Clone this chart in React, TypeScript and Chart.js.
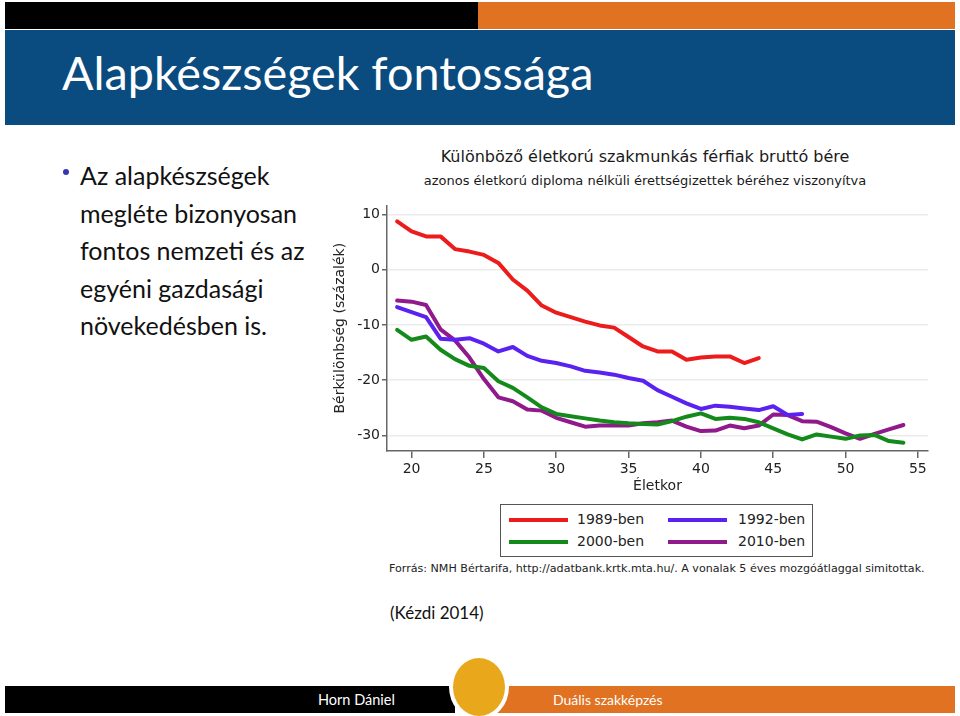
import React, { useEffect, useRef } from "react";
import { Chart, registerables } from "chart.js";

Chart.register(...registerables);

const ages = [19, 20, 21, 22, 23, 24, 25, 26, 27, 28, 29, 30, 31, 32, 33, 34, 35, 36, 37, 38, 39, 40, 41, 42, 43, 44, 45, 46, 47, 48, 49, 50, 51, 52, 53, 54];

const s1989 = [8.7, 6.9, 6.0, 6.0, 3.7, 3.25, 2.65, 1.2, -1.8, -3.8, -6.5, -7.8, -8.6, -9.4, -10.1, -10.5, -12.2, -13.9, -14.8, -14.8, -16.3, -15.9, -15.7, -15.7, -16.9, -16.0, null, null, null, null, null, null, null, null, null, null];
const s1992 = [-6.8, -7.7, -8.6, -12.5, -12.7, -12.4, -13.4, -14.8, -14.0, -15.6, -16.5, -16.9, -17.5, -18.3, -18.6, -19.0, -19.6, -20.1, -21.8, -23.0, -24.2, -25.2, -24.6, -24.8, -25.1, -25.4, -24.7, -26.3, -26.1, null, null, null, null, null, null, null];
const s2000 = [-10.9, -12.7, -12.1, -14.5, -16.2, -17.4, -17.8, -20.2, -21.4, -23.1, -24.9, -26.1, -26.5, -26.9, -27.3, -27.6, -27.8, -27.9, -28.0, -27.4, -26.6, -26.0, -27.0, -26.8, -27.0, -27.6, -28.7, -29.8, -30.7, -29.8, -30.2, -30.6, -30.0, -29.9, -31.0, -31.3];
const s2010 = [-5.6, -5.8, -6.4, -10.8, -12.8, -15.9, -19.8, -23.1, -23.8, -25.3, -25.5, -26.8, -27.6, -28.4, -28.2, -28.2, -28.2, -27.8, -27.6, -27.3, -28.4, -29.2, -29.1, -28.2, -28.7, -28.2, -26.2, -26.3, -27.4, -27.5, -28.5, -29.6, -30.6, -29.7, -28.9, -28.1];

const seriesNames = ["1989-ben", "1992-ben", "2000-ben", "2010-ben"];
const seriesColors = ["#ec1c1c", "#5a22f0", "#138a1a", "#901a8c"];
const seriesValues = [s1989, s1992, s2000, s2010];

const xTicks = [20, 25, 30, 35, 40, 45, 50, 55];
const yTicks = [-30, -20, -10, 0, 10];

const chartTitle = "Különböző életkorú szakmunkás férfiak bruttó bére";
const chartSubtitle = "azonos életkorú diploma nélküli érettségizettek béréhez viszonyítva";
const xTitle = "Életkor";
const yTitle = "Bérkülönbség (százalék)";
const sourceText = "Forrás: NMH Bértarifa, http://adatbank.krtk.mta.hu/. A vonalak 5 éves mozgóátlaggal simitottak.";

const slideTitle = "Alapkészségek fontossága";
const bulletLines = ["Az alapkészségek", "megléte bizonyosan", "fontos nemzeti és az", "egyéni gazdasági", "növekedésben is."];

const chartFont = "'DejaVu Sans', sans-serif";
const slideFont = "Lato, 'Open Sans', sans-serif";

function LineChart() {
  const ref = useRef<HTMLCanvasElement | null>(null);
  useEffect(() => {
    if (!ref.current) return;
    const datasets = seriesValues.map((vals, i) => ({
      label: seriesNames[i],
      data: ages
        .map((a, j) => ({ x: a, y: vals[j] }))
        .filter((p) => p.y !== null),
      borderColor: seriesColors[i],
      backgroundColor: seriesColors[i],
      borderWidth: 4,
      pointRadius: 0,
      tension: 0,
      borderJoinStyle: "round" as const,
      borderCapStyle: "round" as const,
      fill: false,
    }));
    const chart = new Chart(ref.current, {
      type: "line",
      data: { datasets },
      options: {
        animation: false,
        responsive: false,
        maintainAspectRatio: false,
        layout: { padding: { top: 10, right: 7, left: 0, bottom: 0 } },
        plugins: { legend: { display: false }, tooltip: { enabled: false }, title: { display: false } },
        scales: {
          x: {
            type: "linear",
            min: 18.3,
            max: 55.7,
            afterBuildTicks: (scale: any) => {
              scale.ticks = xTicks.map((v) => ({ value: v }));
            },
            afterFit: (scale: any) => {
              scale.height = 44;
            },
            ticks: {
              font: { family: chartFont, size: 14 },
              color: "#222",
              padding: 3,
              maxRotation: 0,
              autoSkip: false,
            },
            grid: { drawOnChartArea: false, drawTicks: true, tickLength: 7, color: "#666", tickColor: "#666", lineWidth: 1.5 },
            border: { display: true, color: "#666", width: 1.5 },
            title: {
              display: true,
              text: xTitle,
              font: { family: chartFont, size: 14 },
              color: "#222",
              padding: { top: 0, bottom: 0 },
            },
          },
          y: {
            type: "linear",
            min: -32.8,
            max: 11.6,
            afterBuildTicks: (scale: any) => {
              scale.ticks = yTicks.map((v) => ({ value: v }));
            },
            afterFit: (scale: any) => {
              scale.width = 57;
            },
            ticks: {
              font: { family: chartFont, size: 14 },
              color: "#222",
              padding: 2,
              autoSkip: false,
            },
            grid: { color: "#ebebeb", lineWidth: 1.5, tickColor: "#666", tickLength: 5 },
            border: { display: true, color: "#666", width: 1.5 },
            title: {
              display: true,
              text: yTitle,
              font: { family: chartFont, size: 14 },
              color: "#222",
              padding: { top: 2, bottom: 0 },
            },
          },
        },
      },
    });
    return () => chart.destroy();
  }, []);
  return (
    <canvas
      ref={ref}
      width={605}
      height={300}
      style={{ position: "absolute", left: 330, top: 195, width: 605, height: 300 }}
    />
  );
}

export default function App() {
  useEffect(() => {
    document.body.style.margin = "0";
  }, []);
  const abs = (o: React.CSSProperties): React.CSSProperties => ({ position: "absolute", ...o });
  return (
    <div style={{ position: "relative", width: 960, height: 716, background: "#fff", overflow: "hidden" }}>
      {/* header */}
      <div style={abs({ left: 5, top: 2, width: 473, height: 27, background: "#000" })} />
      <div style={abs({ left: 478, top: 2, width: 477, height: 27, background: "#e07222" })} />
      <div style={abs({ left: 5, top: 30, width: 950, height: 95, background: "#0a4c7f" })} />
      <div
        style={abs({
          left: 62,
          top: 45,
          color: "#fff",
          fontFamily: slideFont,
          fontWeight: 400,
          fontSize: 46.7,
          lineHeight: "54px",
          whiteSpace: "nowrap",
        })}
      >
        {slideTitle}
      </div>

      {/* bullet text */}
      <div style={abs({ left: 63, top: 169, width: 6, height: 6, borderRadius: 3, background: "#3535b0" })} />
      {bulletLines.map((t, i) => (
        <div
          key={i}
          style={abs({
            left: 80,
            top: 157 + i * 37.5,
            fontFamily: slideFont,
            fontSize: 25,
            lineHeight: "37px",
            color: "#111",
            whiteSpace: "nowrap",
          })}
        >
          {t}
        </div>
      ))}

      {/* chart titles */}
      <div style={abs({ left: 330, width: 630, top: 147, textAlign: "center", fontFamily: chartFont, fontSize: 16, lineHeight: "20px", color: "#1a1a1a", whiteSpace: "nowrap" })}>
        {chartTitle}
      </div>
      <div style={abs({ left: 330, width: 630, top: 173, textAlign: "center", fontFamily: chartFont, fontSize: 13, lineHeight: "16px", color: "#1a1a1a", whiteSpace: "nowrap" })}>
        {chartSubtitle}
      </div>

      <LineChart />

      {/* legend */}
      <div style={abs({ left: 500, top: 504, width: 313, height: 53, boxSizing: "border-box", border: "1.5px solid #555", background: "#fff" })}>
        {seriesNames.map((n, i) => {
          const col = i % 2;
          const row = Math.floor(i / 2);
          return (
            <div key={n}>
              <div style={abs({ left: col === 0 ? 8 : 167, top: row === 0 ? 13 : 35, width: 59, height: 4, background: seriesColors[i] })} />
              <div style={abs({ left: col === 0 ? 76 : 237, top: row === 0 ? 5 : 27, fontFamily: chartFont, fontSize: 14, lineHeight: "18px", color: "#222", whiteSpace: "nowrap" })}>
                {n}
              </div>
            </div>
          );
        })}
      </div>

      {/* source */}
      <div style={abs({ left: 389, top: 562, fontFamily: chartFont, fontSize: 11.1, lineHeight: "14px", color: "#222", whiteSpace: "nowrap" })}>
        {sourceText}
      </div>
      <div style={abs({ left: 390, top: 601, fontFamily: slideFont, fontSize: 17, lineHeight: "24px", color: "#111", whiteSpace: "nowrap" })}>
        (Kézdi 2014)
      </div>

      {/* footer */}
      <div style={abs({ left: 5, top: 686, width: 450, height: 27, background: "#000" })} />
      <div style={abs({ left: 490, top: 686, width: 465, height: 27, background: "#e07222" })} />
      <div style={abs({ left: 449, top: 654, width: 52, height: 58, borderRadius: "50%", background: "#e9a81c", border: "4px solid #fff" })} />
      <div style={abs({ left: 318, top: 690, fontFamily: slideFont, fontSize: 14.5, lineHeight: "20px", color: "#fff", whiteSpace: "nowrap" })}>
        Horn Dániel
      </div>
      <div style={abs({ left: 553, top: 690, fontFamily: slideFont, fontSize: 14, lineHeight: "20px", color: "#fff", whiteSpace: "nowrap" })}>
        Duális szakképzés
      </div>
    </div>
  );
}
